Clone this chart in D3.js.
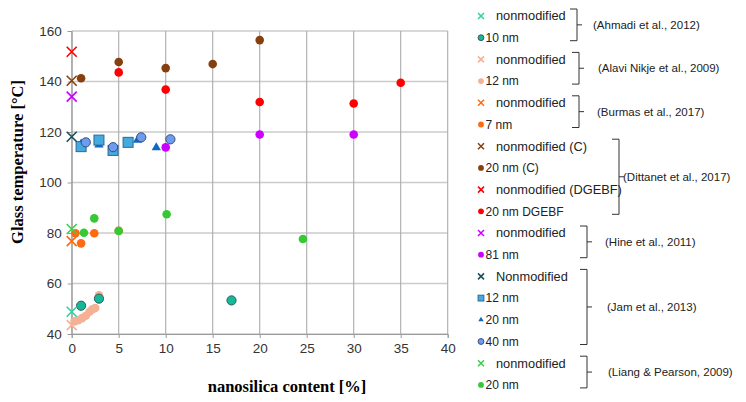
<!DOCTYPE html>
<html>
<head>
<meta charset="utf-8">
<script src="https://cdn.jsdelivr.net/npm/d3@7"></script>
<style>
  body { margin: 0; background: #fff; }
  svg { display: block; }
</style>
</head>
<body>
<svg id="chart" width="746" height="402"></svg>
<script>
// data: [nanosilica %, Tg °C]
const ahmadiNon = [[0, 48.8]];
const ahmadi10 = [[1, 51.2], [2.9, 54], [17, 53.3]];
const alaviNon = [[0, 43.5]];
const alavi12 = [[0.3, 45], [0.7, 45.5], [1.1, 46.3], [1.5, 47.2], [1.9, 48.8], [2.2, 49.8], [2.5, 50.3], [2.9, 55.3]];
const burmasNon = [[0, 76.8]];
const burmas7 = [[0.4, 79.9], [1, 75.9], [2.4, 79.9], [5, 80.9]];
const dittCNon = [[0, 140.3]];
const dittC20 = [[1, 141.3], [5, 147.7], [10, 145.3], [15, 146.9], [20, 156.4]];
const dittDNon = [[0, 151.8]];
const dittD20 = [[5, 143.6], [10, 136.8], [20, 131.9], [30, 131.3], [35, 139.5]];
const hineNon = [[0, 134]];
const hine81 = [[10, 113.9], [20, 119], [30, 119]];
const jamNon = [[0, 118.1]];
const jam12 = [[1, 114.2], [2.9, 116.8], [4.4, 112.7], [6, 115.9]];
const jam20 = [[1, 115.3], [2.9, 114.9], [7, 116.8], [9, 113.8]];
const jam40 = [[1.5, 115.9], [4.4, 114], [7.4, 117.9], [10.5, 117.1]];
const liangNon = [[0, 81.6]];
const liang20 = [[1.3, 80.1], [2.4, 85.8], [5, 80.8], [10.1, 87.4], [24.6, 77.6]];

const xTicks = [0, 5, 10, 15, 20, 25, 30, 35, 40];
const yTicks = [40, 60, 80, 100, 120, 140, 160];

const series = [
  { data: dittC20, shape: "dot", fill: "#86400f" },
  { data: dittD20, shape: "dot", fill: "#ff0000" },
  { data: hine81, shape: "dot", fill: "#cc00ff" },
  { data: jam20, shape: "triangle", fill: "#1068c0" },
  { data: jam12, shape: "square", fill: "#45aadd", stroke: "#2b6a98" },
  { data: jam40, shape: "dot", fill: "#6f9cf0", stroke: "#34507e", r: 4.6 },
  { data: burmas7, shape: "dot", fill: "#fe6a12" },
  { data: liang20, shape: "dot", fill: "#35c935" },
  { data: alavi12, shape: "dot", fill: "#f5b195" },
  { data: ahmadi10, shape: "dot", fill: "#17b897", stroke: "#2f5f62", r: 4.6 },
  { data: dittDNon, shape: "x", fill: "#ff0000" },
  { data: dittCNon, shape: "x", fill: "#86400f" },
  { data: hineNon, shape: "x", fill: "#cc00ff" },
  { data: jamNon, shape: "x", fill: "#1b4d5c" },
  { data: liangNon, shape: "x", fill: "#3ad04a" },
  { data: burmasNon, shape: "x", fill: "#fe6a12" },
  { data: ahmadiNon, shape: "x", fill: "#2ed3a0" },
  { data: alaviNon, shape: "x", fill: "#f5b195" }
];

const legendItems = [
  { label: "nonmodified", shape: "x", fill: "#2ed3a0" },
  { label: "10 nm", shape: "dot", fill: "#17b897", stroke: "#2f5f62" },
  { label: "nonmodified", shape: "x", fill: "#f5b195" },
  { label: "12 nm", shape: "dot", fill: "#f5b195" },
  { label: "nonmodified", shape: "x", fill: "#fe6a12" },
  { label: "7 nm", shape: "dot", fill: "#fe6a12" },
  { label: "nonmodified (C)", shape: "x", fill: "#86400f" },
  { label: "20 nm (C)", shape: "dot", fill: "#86400f" },
  { label: "nonmodified (DGEBF)", shape: "x", fill: "#ff0000" },
  { label: "20 nm DGEBF", shape: "dot", fill: "#ff0000" },
  { label: "nonmodified", shape: "x", fill: "#cc00ff" },
  { label: "81 nm", shape: "dot", fill: "#cc00ff" },
  { label: "Nonmodified", shape: "x", fill: "#1b4d5c" },
  { label: "12 nm", shape: "square", fill: "#45aadd", stroke: "#2b6a98" },
  { label: "20 nm", shape: "triangle", fill: "#1068c0" },
  { label: "40 nm", shape: "dot", fill: "#6f9cf0", stroke: "#34507e" },
  { label: "nonmodified", shape: "x", fill: "#3ad04a" },
  { label: "20 nm", shape: "dot", fill: "#35c935" }
];

const sources = [
  { label: "(Ahmadi et al., 2012)", first: 0, last: 1, bx: 577, lx: 593 },
  { label: "(Alavi Nikje et al., 2009)", first: 2, last: 3, bx: 579, lx: 598 },
  { label: "(Burmas et al., 2017)", first: 4, last: 5, bx: 579, lx: 597 },
  { label: "(Dittanet et al., 2017)", first: 6, last: 9, bx: 619, lx: 623 },
  { label: "(Hine et al., 2011)", first: 10, last: 11, bx: 587, lx: 605 },
  { label: "(Jam et al., 2013)", first: 12, last: 15, bx: 587, lx: 607 },
  { label: "(Liang & Pearson, 2009)", first: 16, last: 17, bx: 587, lx: 608 }
];

const svg = d3.select("#chart");
const x = d3.scaleLinear().domain([0, 40]).range([71.7, 447.7]);
const y = d3.scaleLinear().domain([40, 160]).range([334, 31]);

// grid
svg.append("g")
  .selectAll("line").data(yTicks).join("line")
  .attr("x1", x(0)).attr("x2", x(40))
  .attr("y1", d => y(d)).attr("y2", d => y(d))
  .attr("stroke", "#cbcbcb").attr("stroke-width", 1.5);
svg.append("g")
  .selectAll("line").data(xTicks).join("line")
  .attr("x1", d => x(d)).attr("x2", d => x(d))
  .attr("y1", y(40)).attr("y2", y(160))
  .attr("stroke", "#acacac").attr("stroke-width", 1.1);

// axes
const yAxis = svg.append("g")
  .attr("transform", `translate(${x(0)},0)`)
  .call(d3.axisLeft(y).tickValues(yTicks).tickSize(4).tickPadding(6));
const xAxis = svg.append("g")
  .attr("transform", `translate(0,${y(40)})`)
  .call(d3.axisBottom(x).tickValues(xTicks).tickSize(4).tickPadding(5));
[yAxis, xAxis].forEach(a => {
  a.select(".domain").attr("stroke", "#9a9a9a");
  a.selectAll(".tick line").attr("stroke", "#9a9a9a");
  a.selectAll(".tick text")
    .attr("fill", "#333")
    .style("font-family", "'Liberation Sans', Arial, sans-serif")
    .style("font-size", "13.5px");
});

// axis titles
svg.append("text")
  .attr("x", 287).attr("y", 392)
  .attr("text-anchor", "middle")
  .style("font-family", "'Liberation Serif', 'Times New Roman', serif")
  .style("font-weight", "bold").style("font-size", "16.5px")
  .text("nanosilica content [%]");
svg.append("text")
  .attr("transform", "translate(23,162) rotate(-90)")
  .attr("text-anchor", "middle")
  .style("font-family", "'Liberation Serif', 'Times New Roman', serif")
  .style("font-weight", "bold").style("font-size", "16.5px")
  .text("Glass temperature [°C]");

function drawMarker(g, shape, fill, stroke, s) {
  if (shape === "dot") {
    g.append("circle").attr("r", s).attr("fill", fill)
      .attr("stroke", stroke || "none").attr("stroke-width", stroke ? 1 : 0);
  } else if (shape === "square") {
    g.append("rect").attr("x", -s).attr("y", -s).attr("width", 2 * s).attr("height", 2 * s)
      .attr("fill", fill).attr("stroke", stroke).attr("stroke-width", 1);
  } else if (shape === "triangle") {
    g.append("path").attr("d", d3.symbol(d3.symbolTriangle, s * s * 1.5)()).attr("fill", fill);
  } else {
    g.append("path").attr("d", `M${-s},${-s}L${s},${s}M${-s},${s}L${s},${-s}`)
      .attr("stroke", fill).attr("stroke-width", s > 3 ? 1.6 : 1.5).attr("fill", "none");
  }
}

// points
series.forEach(sr => {
  sr.data.forEach(p => {
    const g = svg.append("g").attr("transform", `translate(${x(p[0])},${y(p[1])})`);
    const size = sr.shape === "x" ? 5 : sr.shape === "square" ? 5 : sr.shape === "triangle" ? 5 : (sr.r || 4.3);
    drawMarker(g, sr.shape, sr.fill, sr.stroke, size);
  });
});

// legend
const ly = i => 16 + i * 21.7;
const legend = svg.append("g");
legendItems.forEach((d, i) => {
  const g = legend.append("g").attr("transform", `translate(481,${ly(i)})`);
  drawMarker(g, d.shape, d.fill, d.stroke, d.shape === "x" ? 3 : 2.9);
  g.append("text")
    .attr("x", d.shape === "x" ? 15 : 4.5)
    .attr("dy", "0.35em")
    .attr("fill", "#222")
    .style("font-family", "'Liberation Sans', Arial, sans-serif")
    .style("font-size", d.shape === "x" ? "12.8px" : "12px")
    .text(d.label);
});

// source brackets
sources.forEach(s => {
  const top = ly(s.first) - 7, bot = ly(s.last) + 3, mid = (top + bot) / 2;
  svg.append("path")
    .attr("d", `M${s.bx - 7},${top}L${s.bx},${top}L${s.bx},${bot}L${s.bx - 7},${bot}M${s.bx},${mid}L${s.bx + 5},${mid}`)
    .attr("fill", "none").attr("stroke", "#333").attr("stroke-width", 1);
  svg.append("text")
    .attr("x", s.lx).attr("y", mid).attr("dy", "0.35em")
    .attr("fill", "#222")
    .style("font-family", "'Liberation Sans', Arial, sans-serif")
    .style("font-size", "11.5px")
    .text(s.label);
});
</script>
</body>
</html>
